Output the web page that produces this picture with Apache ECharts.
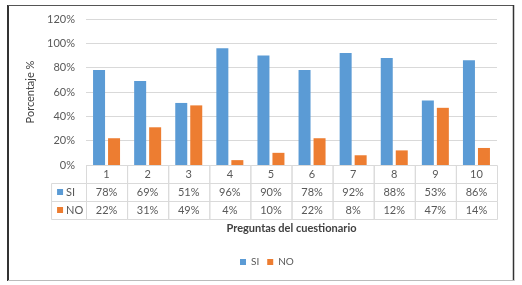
<!DOCTYPE html>
<html><head><meta charset="utf-8">
<script src="https://cdn.jsdelivr.net/npm/echarts@6/dist/echarts.min.js"></script>
<style>html,body{margin:0;padding:0;background:#fff}#c{width:522px;height:285px}</style>
</head><body><div id="c"></div>
<script>
const categories = ['1','2','3','4','5','6','7','8','9','10'];
const siValues = [78,69,51,96,90,78,92,88,53,86];
const noValues = [22,31,49,4,10,22,8,12,47,14];
const seriesNames = ['SI','NO'];
const yTickLabels = ['0%','20%','40%','60%','80%','100%','120%'];
const colors = ['#5B9BD5','#ED7D31'];
const FONT = 'Lato, "Open Sans", sans-serif';

// table cells: [col, row], text looked up by index
const cellData = [];
const cellText = [];
const cellKind = [];
categories.forEach((c,i)=>{ cellData.push([i,0]); cellText.push(c); cellKind.push('v'); });
siValues.forEach((v,i)=>{ cellData.push([i,1]); cellText.push(v+'%'); cellKind.push('v'); });
noValues.forEach((v,i)=>{ cellData.push([i,2]); cellText.push(v+'%'); cellKind.push('v'); });
seriesNames.forEach((n,i)=>{ cellData.push([-1,i+1]); cellText.push(n); cellKind.push(i); });

const LABEL_COL = 0.85;
const chart = echarts.init(document.getElementById('c'));
chart.setOption({
  animation:false,
  color: colors,
  textStyle:{fontFamily:FONT},
  grid:[
    {left:86, right:25, top:19, height:146},
    {left:86, right:25, top:165, height:54}
  ],
  legend:{data:seriesNames, left:235, top:252, icon:'rect', itemWidth:6, itemHeight:6, itemGap:8,
    textStyle:{fontSize:10, color:'#595959', fontFamily:FONT}},
  xAxis:[
    {type:'category', gridIndex:0, data:categories, axisLine:{show:false}, axisTick:{show:false}, axisLabel:{show:false},
     name:'Preguntas del cuestionario', nameLocation:'middle', nameGap:58,
     nameTextStyle:{fontSize:11, fontWeight:'bold', color:'#404040', fontFamily:FONT}},
    {type:'value', gridIndex:1, min:0, max:10, show:false}
  ],
  yAxis:[
    {type:'value', gridIndex:0, min:0, max:120, interval:20,
     axisLabel:{formatter:(v)=>yTickLabels[v/20], fontSize:11, color:'#595959', margin:11, fontFamily:FONT},
     splitLine:{lineStyle:{color:'#d9d9d9'}}, axisLine:{show:false}, axisTick:{show:false},
     name:'Porcentaje %', nameLocation:'middle', nameGap:44,
     nameTextStyle:{fontSize:11, color:'#404040', fontFamily:FONT}},
    {type:'value', gridIndex:1, min:0, max:3, inverse:true, show:false}
  ],
  series:[
    {name:'SI', type:'bar', data:siValues, barWidth:12, barGap:'25%', xAxisIndex:0, yAxisIndex:0},
    {name:'NO', type:'bar', data:noValues, barWidth:12, barGap:'25%', xAxisIndex:0, yAxisIndex:0},
    {type:'custom', xAxisIndex:1, yAxisIndex:1, data:cellData, clip:false, silent:true,
     renderItem:(params, api)=>{
       const col = api.value(0), row = api.value(1);
       const i = params.dataIndex;
       const xa = col < 0 ? -LABEL_COL : col;
       const xb = col < 0 ? 0 : col + 1;
       const p0 = api.coord([xa,row]);
       const p1 = api.coord([xb,row+1]);
       const x0 = p0[0], y0 = p0[1], w = p1[0]-p0[0], h = p1[1]-p0[1];
       const children = [
         {type:'rect', shape:{x:x0+0.5, y:y0+0.5, width:w, height:h},
          style:{fill:'none', stroke:'#dadada', lineWidth:1}}
       ];
       const kind = cellKind[i];
       if (kind === 'v') {
         children.push({type:'text', style:{text:cellText[i], x:x0+w/2, y:y0+h/2+0.5,
           textAlign:'center', textVerticalAlign:'middle', align:'center', verticalAlign:'middle',
           fill:'#595959', font:'11px '+FONT}});
       } else {
         children.push({type:'rect', shape:{x:x0+6, y:y0+h/2-3, width:6, height:6},
           style:{fill:colors[kind]}});
         children.push({type:'text', style:{text:cellText[i], x:x0+15, y:y0+h/2+0.5,
           textAlign:'left', textVerticalAlign:'middle', align:'left', verticalAlign:'middle',
           fill:'#595959', font:'11px '+FONT}});
       }
       return {type:'group', children};
     }}
  ],
  graphic:[
    {type:'line', shape:{x1:8, y1:5, x2:8, y2:281}, style:{stroke:'#333', lineWidth:2}},
    {type:'line', shape:{x1:8, y1:5.5, x2:514, y2:5.5}, style:{stroke:'#555', lineWidth:1}},
    {type:'line', shape:{x1:513.5, y1:5, x2:513.5, y2:281}, style:{stroke:'#333', lineWidth:1.5}},
    {type:'line', shape:{x1:8, y1:280.5, x2:514, y2:280.5}, style:{stroke:'#bbb', lineWidth:1}}
  ]
});
</script></body></html>
